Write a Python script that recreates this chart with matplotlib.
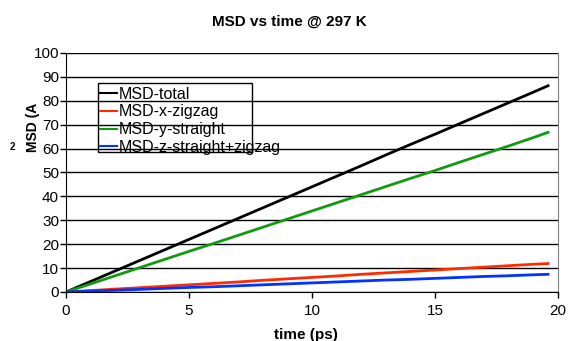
import numpy as np
import matplotlib
matplotlib.use("Agg")
import matplotlib.pyplot as plt
from matplotlib.patches import Rectangle

plt.rcParams["font.family"] = ["Liberation Sans", "DejaVu Sans"]

# values (time in ps, MSD in A^2)
time_ps = [0, 1, 2, 3, 4, 5, 6, 7, 8, 9, 10, 11, 12, 13, 14, 15, 16, 17, 18, 19, 19.6]
msd_total = [0, 4.4, 8.8, 13.2, 17.6, 22.0, 26.4, 30.8, 35.2, 39.6, 44.0, 48.4,
             52.8, 57.3, 61.7, 66.0, 70.4, 74.8, 79.2, 83.6, 86.3]
msd_x = [0, 0.6, 1.2, 1.8, 2.4, 3.0, 3.6, 4.2, 4.9, 5.5, 6.1, 6.7,
         7.4, 8.0, 8.6, 9.2, 9.8, 10.4, 11.0, 11.6, 11.9]
msd_y = [0, 3.4, 6.8, 10.2, 13.6, 17.0, 20.3, 23.7, 27.1, 30.5, 33.9, 37.3,
         40.7, 44.1, 47.5, 50.8, 54.3, 57.7, 61.1, 64.6, 66.8]
msd_z = [0, 0.36, 0.72, 1.1, 1.5, 1.9, 2.2, 2.6, 3.0, 3.4, 3.8, 4.2,
         4.6, 5.0, 5.3, 5.7, 6.1, 6.5, 6.8, 7.2, 7.4]

labels = ["MSD-total", "MSD-x-zigzag", "MSD-y-straight", "MSD-z-straight+zigzag"]
colors = ["#000000", "#ff2a00", "#119911", "#0033ff"]

fig = plt.figure(figsize=(5.7, 3.41), dpi=100)
ax = fig.add_axes([0.1158, 0.1437, 0.863, 0.701])

for ys, lab, c in zip([msd_total, msd_x, msd_y, msd_z], labels, colors):
    ax.plot(time_ps, ys, color=c, lw=2, label=lab)

ax.set_xlim(0, 20)
ax.set_ylim(0, 100)
ax.set_xticks(np.arange(0, 21, 5))
ax.set_yticks(np.arange(0, 101, 10))
ax.yaxis.grid(True, color="black", lw=1)
ax.set_axisbelow(True)
ax.tick_params(labelsize=11, length=4, width=1, direction="out")
ax.tick_params(axis="y", pad=1)
ax.tick_params(axis="x", pad=5)
ax.spines["right"].set_color("#808080")
ax.spines["top"].set_visible(False)

fig.text(0.507, 0.935, "MSD vs time @ 297 K", fontsize=11, fontweight="bold",
         ha="center", va="center")
fig.text(0.537, 0.018, "time (ps)", fontsize=11, fontweight="bold",
         ha="center", va="center")
fig.text(0.058, 0.625, "MSD (A", rotation=90, fontsize=10, fontweight="bold",
         ha="center", va="center")
fig.text(0.021, 0.569, "2", fontsize=7, fontweight="bold", ha="center", va="center")

# Excel-style legend: box narrower than the text, drawn through gridlines
ax.add_patch(Rectangle((0.065, 0.5845), 0.313, 0.291, transform=ax.transAxes,
                       fill=False, edgecolor="black", lw=1, zorder=5))
leg = ax.legend(loc="upper left", bbox_to_anchor=(0.069, 0.859), fontsize=11.5,
                frameon=False, handlelength=1.05, handletextpad=0.1,
                labelspacing=0.175, borderpad=0, borderaxespad=0)
for h in leg.get_lines():
    h.set_linewidth(1.5)

fig.savefig("out.png", dpi=100)
